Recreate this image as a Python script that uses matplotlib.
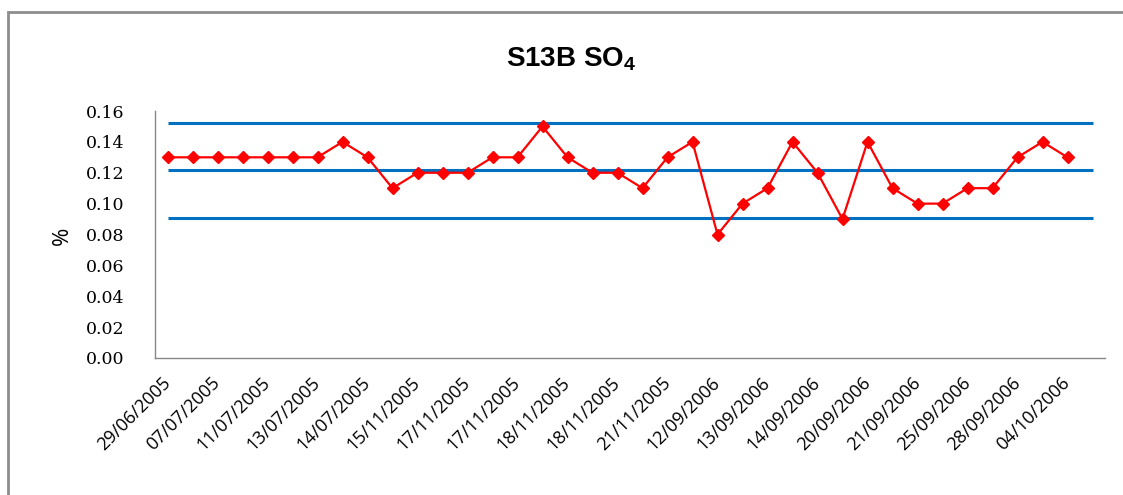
import matplotlib.pyplot as plt
from matplotlib.patches import Rectangle
from matplotlib.transforms import ScaledTranslation

# S13B SO4 control chart data
tick_labels = ["29/06/2005", "07/07/2005", "11/07/2005", "13/07/2005", "14/07/2005",
               "15/11/2005", "17/11/2005", "17/11/2005", "18/11/2005", "18/11/2005",
               "21/11/2005", "12/09/2006", "13/09/2006", "14/09/2006", "20/09/2006",
               "21/09/2006", "25/09/2006", "28/09/2006", "04/10/2006"]
so4 = [0.13, 0.13, 0.13, 0.13, 0.13, 0.13, 0.13, 0.14, 0.13, 0.11,
       0.12, 0.12, 0.12, 0.13, 0.13, 0.15, 0.13, 0.12, 0.12, 0.11,
       0.13, 0.14, 0.08, 0.10, 0.11, 0.14, 0.12, 0.09, 0.14, 0.11,
       0.10, 0.10, 0.11, 0.11, 0.13, 0.14, 0.13]
n_categories = 38
ucl = 0.152
cl = 0.122
lcl = 0.091

plt.rcParams['mathtext.fontset'] = 'custom'
plt.rcParams['mathtext.rm'] = 'Liberation Sans'
plt.rcParams['mathtext.bf'] = 'Liberation Sans:bold'

fig = plt.figure(figsize=(11.23, 4.95), dpi=100)
ax = fig.add_axes([155 / 1123, 1 - 358 / 495, 950 / 1123, 247 / 495])

cats = list(range(n_categories))
blue = "#0070C0"
for level in (ucl, cl, lcl):
    ax.plot(cats, [level] * n_categories, color=blue, lw=2.2, solid_capstyle='butt')

ax.plot(range(len(so4)), so4, color="red", lw=1.6, marker="D", ms=6.5,
        markeredgecolor="red", zorder=3)

ax.set_xlim(-0.5, n_categories - 0.5)
ax.set_ylim(0, 0.16)
ax.set_yticks([i * 0.02 for i in range(9)])
ax.set_yticklabels(["%.2f" % (i * 0.02) for i in range(9)],
                   fontfamily="DejaVu Serif", fontsize=12.5)
ax.set_xticks(range(0, n_categories - 1, 2))
ax.set_xticklabels(tick_labels, rotation=45, ha="right", va="center",
                   rotation_mode="anchor", fontfamily="Open Sans", fontsize=13)
offset = ScaledTranslation(6 / 100, 0, fig.dpi_scale_trans)
for lab in ax.get_xticklabels():
    lab.set_transform(lab.get_transform() + offset)
ax.tick_params(axis="both", length=0)
ax.tick_params(axis="y", pad=22)
ax.tick_params(axis="x", pad=16)

for side in ("top", "right"):
    ax.spines[side].set_visible(False)
for side in ("left", "bottom"):
    ax.spines[side].set_color("#888888")
    ax.spines[side].set_linewidth(1)

fig.text(62 / 1123, 1 - 236 / 495, "%", rotation=90, ha="center", va="center",
         fontsize=16, fontfamily="Open Sans")
fig.text(571 / 1123, 1 - 59 / 495, r"S13B SO$_\mathbf{4}$", ha="center", va="center",
         fontsize=20, fontweight="bold", fontfamily="Liberation Sans")

fig.patches.append(Rectangle((8 / 1123, -0.1), 2, 1 - 12 / 495 + 0.1,
                             transform=fig.transFigure, fill=False,
                             edgecolor="#8c8c8c", lw=2, clip_on=False))

fig.savefig("out.png", dpi=100)
